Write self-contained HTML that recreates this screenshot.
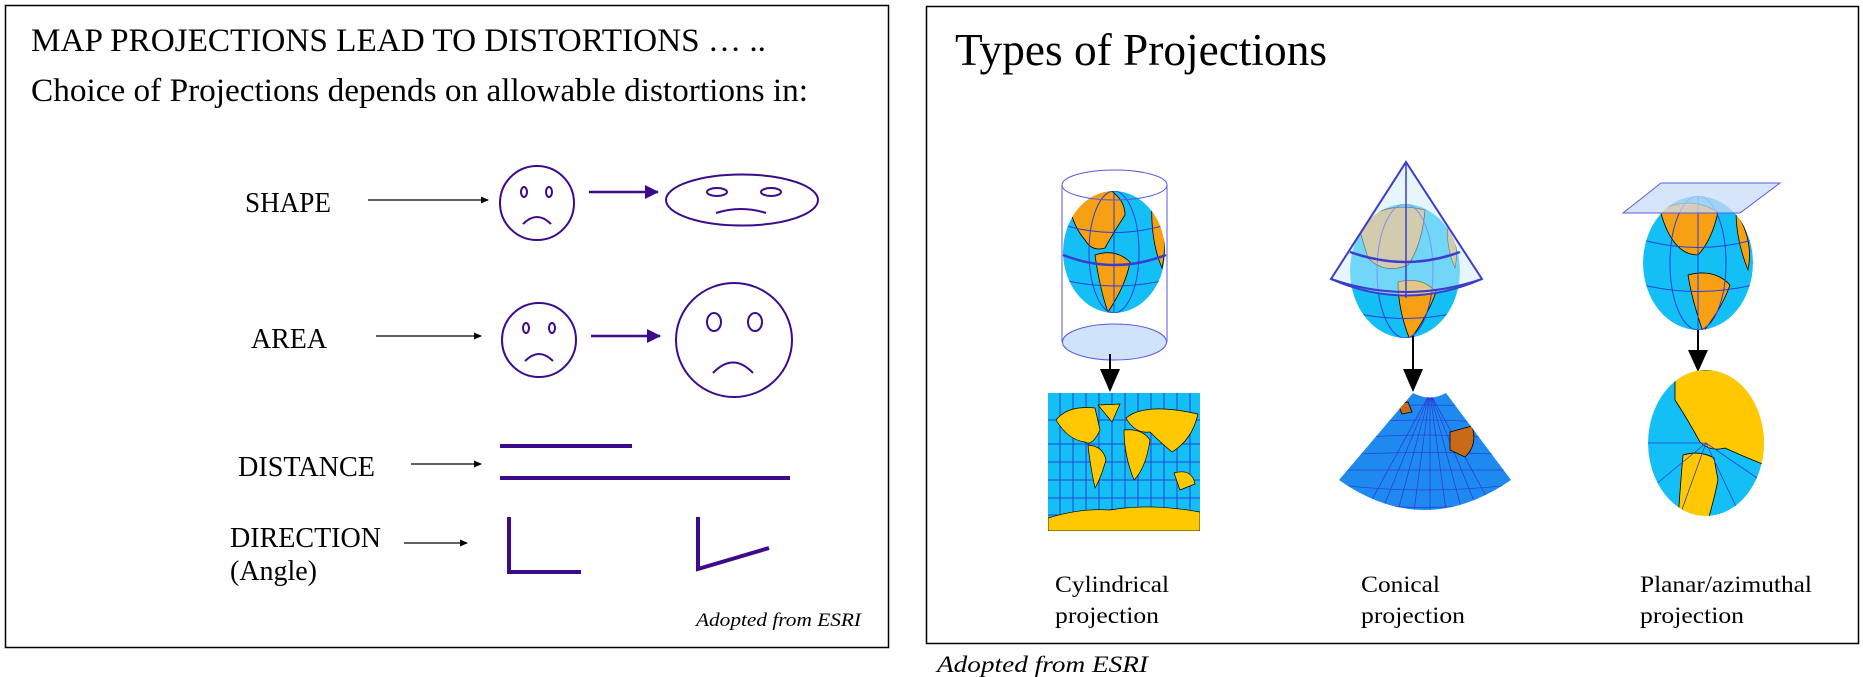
<!DOCTYPE html>
<html><head><meta charset="utf-8"><style>
html,body{margin:0;padding:0;background:#fff;}
svg{display:block;}
text{font-family:"Liberation Serif",serif;fill:#000;}
</style></head><body>
<svg width="1863" height="677" viewBox="0 0 1863 677" xmlns="http://www.w3.org/2000/svg">
<defs>
<marker id="ak" markerWidth="8" markerHeight="8" refX="7" refY="4" orient="auto" markerUnits="userSpaceOnUse"><path d="M0,0.5 L8,4 L0,7.5 z" fill="#000"/></marker>
<marker id="ap" markerWidth="14" markerHeight="14" refX="13" refY="7" orient="auto" markerUnits="userSpaceOnUse"><path d="M0,0 L14,7 L0,14 z" fill="#3d0a8c"/></marker>
<clipPath id="c1"><ellipse cx="1114" cy="252" rx="51" ry="61"/></clipPath>
<clipPath id="c2"><ellipse cx="1405" cy="271" rx="55" ry="67"/></clipPath>
<clipPath id="c3"><ellipse cx="1698" cy="263" rx="55" ry="67"/></clipPath>
<clipPath id="c4"><ellipse cx="1706" cy="443" rx="58" ry="73"/></clipPath>
<clipPath id="c5"><rect x="1048" y="393" width="152" height="138"/></clipPath>
<clipPath id="c6"><path d="M1413,393 Q1430,402 1446,393 L1511,480 Q1424,540 1339,480 Z"/></clipPath>
</defs>

<rect x="5.5" y="5.5" width="883" height="642" fill="none" stroke="#000" stroke-width="1.5"/>
<text x="31" y="51" font-size="33" textLength="735" lengthAdjust="spacingAndGlyphs">MAP PROJECTIONS LEAD TO DISTORTIONS … ..</text>
<text x="31" y="101" font-size="33" textLength="777" lengthAdjust="spacingAndGlyphs">Choice of Projections depends on allowable  distortions in:</text>

<g fill="none" stroke="#3d0a8c" stroke-width="2">
<ellipse cx="537" cy="203" rx="37" ry="37"/>
<ellipse cx="524" cy="192" rx="3" ry="5"/><ellipse cx="549" cy="192" rx="3" ry="5"/>
<path d="M523,224 Q537,210 551,224"/>
<ellipse cx="742" cy="200" rx="76" ry="25.5"/>
<ellipse cx="717" cy="192" rx="10" ry="4"/><ellipse cx="771" cy="192" rx="10" ry="4"/>
<path d="M716,213 Q741,205 766,213"/>
<ellipse cx="539" cy="340" rx="37" ry="37"/>
<ellipse cx="526" cy="328" rx="3" ry="5"/><ellipse cx="552" cy="328" rx="3" ry="5"/>
<path d="M525,361 Q539,347 553,361"/>
<ellipse cx="734" cy="340" rx="58" ry="57"/>
<ellipse cx="714" cy="322" rx="7" ry="9"/><ellipse cx="755" cy="322" rx="7" ry="9"/>
<path d="M713,373 Q733,352 753,373"/>
</g>
<line x1="589" y1="192" x2="658" y2="192" stroke="#3d0a8c" stroke-width="2.5" marker-end="url(#ap)"/>
<line x1="591" y1="336" x2="660" y2="336" stroke="#3d0a8c" stroke-width="2.5" marker-end="url(#ap)"/>
<g stroke="#3d0a8c" stroke-width="4" fill="none">
<line x1="500" y1="446" x2="632" y2="446"/>
<line x1="500" y1="478" x2="790" y2="478"/>
<polyline points="509,517 509,572 581,572"/>
<polyline points="698,517 698,569 769,548"/>
</g>
<g stroke="#000" stroke-width="1.3">
<line x1="368" y1="200" x2="488" y2="200" marker-end="url(#ak)"/>
<line x1="376" y1="336" x2="481" y2="336" marker-end="url(#ak)"/>
<line x1="411" y1="464" x2="481" y2="464" marker-end="url(#ak)"/>
<line x1="404" y1="543" x2="467" y2="543" marker-end="url(#ak)"/>
</g>
<text x="245" y="212" font-size="28" textLength="86" lengthAdjust="spacingAndGlyphs">SHAPE</text>
<text x="251" y="348" font-size="28" textLength="76" lengthAdjust="spacingAndGlyphs">AREA</text>
<text x="238" y="476" font-size="28" textLength="137" lengthAdjust="spacingAndGlyphs">DISTANCE</text>
<text x="230" y="547" font-size="28" textLength="151" lengthAdjust="spacingAndGlyphs">DIRECTION</text>
<text x="230" y="580" font-size="28" textLength="87" lengthAdjust="spacingAndGlyphs">(Angle)</text>
<text x="696" y="626" font-size="19" font-style="italic" textLength="165" lengthAdjust="spacingAndGlyphs">Adopted from ESRI</text>

<rect x="926.5" y="6.5" width="932" height="637" fill="none" stroke="#000" stroke-width="1.5"/>
<text x="955" y="65" font-size="45" textLength="372" lengthAdjust="spacingAndGlyphs">Types of Projections</text>

<ellipse cx="1114.5" cy="342" rx="52" ry="18" fill="#cfe3fb" stroke="#5a5ae0" stroke-width="1"/>
<g clip-path="url(#c1)">
<ellipse cx="1114" cy="252" rx="51" ry="61" fill="#14bff5"/>
<path d="M1068,200 Q1085,185 1110,190 Q1125,200 1125,215 Q1112,235 1105,248 Q1092,252 1085,240 Q1072,225 1068,200Z" fill="#f7a013" stroke="#000" stroke-width="0.8"/>
<path d="M1095,255 Q1115,248 1130,262 Q1126,285 1108,312 Q1100,290 1095,255Z" fill="#f7a013" stroke="#000" stroke-width="0.8"/>
<path d="M1152,200 Q1170,230 1162,268 Q1150,240 1152,200Z" fill="#f7a013" stroke="#000" stroke-width="0.8"/>
<g fill="none" stroke="#2a3fd8" stroke-width="1"><ellipse cx="1114" cy="252" rx="25" ry="61"/><line x1="1114" y1="190" x2="1114" y2="314"/><path d="M1063,225 Q1114,240 1166,225"/><path d="M1063,280 Q1114,292 1166,280"/></g>
</g>
<path d="M1063,255 Q1114,275 1166,255" fill="none" stroke="#3b3ccc" stroke-width="2.5"/>
<ellipse cx="1114.5" cy="185" rx="52.5" ry="15" fill="none" stroke="#5a5ae0" stroke-width="1"/>
<line x1="1062" y1="185" x2="1062" y2="342" stroke="#5a5ae0" stroke-width="1"/>
<line x1="1167" y1="185" x2="1167" y2="342" stroke="#5a5ae0" stroke-width="1"/>
<line x1="1110" y1="354" x2="1110" y2="372" stroke="#000" stroke-width="2"/>
<path d="M1100,369 L1120,369 L1110,392Z" fill="#000"/>
<g clip-path="url(#c5)">
<rect x="1048" y="393" width="152" height="138" fill="#14bff5"/>
<g stroke="#2a3fd8" stroke-width="1">
<path d="M1060,393V531M1073,393V531M1086,393V531M1099,393V531M1112,393V531M1125,393V531M1138,393V531M1151,393V531M1164,393V531M1177,393V531M1190,393V531"/>
<path d="M1048,420H1200M1048,444H1200M1048,462H1200M1048,480H1200M1048,498H1200M1048,515H1200"/>
</g>
<g fill="#ffc800" stroke="#000" stroke-width="0.7">
<path d="M1056,420 Q1068,405 1095,408 L1100,430 Q1092,447 1085,442 Q1068,440 1056,420Z"/>
<path d="M1098,405 L1120,404 L1112,422Z"/>
<path d="M1088,445 Q1103,446 1106,460 Q1100,480 1095,488 Q1090,465 1088,445Z"/>
<path d="M1126,418 Q1145,402 1198,414 Q1192,440 1172,452 Q1160,442 1150,432 Q1135,434 1126,418Z"/>
<path d="M1124,430 Q1142,428 1150,440 Q1146,468 1134,480 Q1124,455 1124,430Z"/>
<path d="M1174,473 Q1192,468 1195,484 L1180,490Z"/>
<path d="M1048,518 Q1080,508 1110,510 Q1150,503 1200,512 L1200,531 L1048,531Z"/>
</g>
</g>

<g clip-path="url(#c2)">
<ellipse cx="1405" cy="271" rx="55" ry="67" fill="#14bff5"/>
<path d="M1358,225 Q1385,200 1425,210 Q1422,245 1408,265 Q1385,275 1368,258Z" fill="#d9a860" stroke="#000" stroke-width="0.8"/>
<path d="M1398,282 Q1422,276 1436,292 Q1428,315 1410,340 Q1398,310 1398,282Z" fill="#f7a013" stroke="#000" stroke-width="0.8"/>
<path d="M1448,220 Q1460,245 1455,268 Q1445,245 1448,220Z" fill="#d9a860" stroke="#000" stroke-width="0.6"/>
<g fill="none" stroke="#2a3fd8" stroke-width="1"><ellipse cx="1405" cy="271" rx="28" ry="67"/><path d="M1350,312 Q1405,325 1460,312"/></g>
</g>
<path d="M1406,162 L1482,279 Q1406,312 1331,279 Z" fill="#cdeefa" fill-opacity="0.5" stroke="#3b3ccc" stroke-width="2"/>
<path d="M1331,279 Q1406,305 1482,279" fill="none" stroke="#3b3ccc" stroke-width="2"/>
<path d="M1350,252 Q1406,272 1460,252" fill="none" stroke="#3b3ccc" stroke-width="2.5"/>
<line x1="1406" y1="162" x2="1406" y2="298" stroke="#3b3ccc" stroke-width="1.5"/>
<line x1="1413" y1="336" x2="1413" y2="372" stroke="#000" stroke-width="2"/>
<path d="M1403,369 L1423,369 L1413,392Z" fill="#000"/>
<g clip-path="url(#c6)">
<rect x="1339" y="390" width="175" height="140" fill="#1e8af0"/>
<g stroke="#2a3fd8" stroke-width="0.8" fill="none">
<path d="M1339,410Q1425,400 1511,410M1339,425Q1425,415 1511,425M1339,440Q1425,430 1511,440M1339,455Q1425,450 1511,455M1339,470Q1425,470 1511,470M1339,485Q1425,495 1511,485M1339,500Q1425,515 1511,500"/>
<path d="M1430,393L1350,540M1430,393L1370,540M1430,393L1390,540M1430,393L1410,540M1430,393L1430,540M1430,393L1450,540M1430,393L1470,540M1430,393L1490,540M1430,393L1510,540"/>
</g>
<path d="M1450,432 L1472,426 Q1478,445 1465,457 L1450,450Z" fill="#c86a1a" stroke="#000" stroke-width="0.8"/>
<path d="M1398,404 L1408,402 L1412,412 L1402,414Z" fill="#c86a1a" stroke="#000" stroke-width="0.8"/>
</g>

<g clip-path="url(#c3)">
<ellipse cx="1698" cy="263" rx="55" ry="67" fill="#14bff5"/>
<path d="M1660,210 Q1690,195 1718,212 Q1712,240 1698,255 Q1672,255 1660,210Z" fill="#f7a013" stroke="#000" stroke-width="0.8"/>
<path d="M1688,275 Q1714,268 1730,285 Q1722,308 1703,332 Q1692,300 1688,275Z" fill="#f7a013" stroke="#000" stroke-width="0.8"/>
<path d="M1736,212 Q1754,240 1748,270 Q1736,240 1736,212Z" fill="#f7a013" stroke="#000" stroke-width="0.8"/>
<g fill="none" stroke="#2a3fd8" stroke-width="1"><ellipse cx="1698" cy="263" rx="28" ry="67"/><line x1="1698" y1="196" x2="1698" y2="330"/><path d="M1643,240Q1698,255 1753,240M1643,285Q1698,298 1753,285"/></g>
</g>
<path d="M1623,213 L1661,183 L1780,183 L1740,213 Z" fill="#c9dcf8" fill-opacity="0.75" stroke="#5a5ae0" stroke-width="1"/>
<line x1="1698" y1="330" x2="1698" y2="353" stroke="#000" stroke-width="2"/>
<path d="M1688,350 L1708,350 L1698,372Z" fill="#000"/>
<g clip-path="url(#c4)">
<ellipse cx="1706" cy="443" rx="58" ry="73" fill="#14bff5"/>
<path d="M1675,370 L1765,370 L1765,465 Q1740,455 1725,448 Q1710,452 1700,442 Q1688,420 1675,400Z" fill="#ffc800" stroke="#000" stroke-width="0.8"/>
<path d="M1683,455 Q1700,450 1714,458 L1718,480 Q1714,500 1708,520 L1678,520 Q1680,490 1683,455Z" fill="#ffc800" stroke="#000" stroke-width="0.8"/>
<g stroke="#2a3fd8" stroke-width="0.8"><path d="M1706,443L1648,443M1706,443L1655,485M1706,443L1680,515M1706,443L1740,515M1706,443L1760,480"/></g>
</g>

<text x="1055" y="592" font-size="23" textLength="114" lengthAdjust="spacingAndGlyphs">Cylindrical</text>
<text x="1055" y="623" font-size="23" textLength="104" lengthAdjust="spacingAndGlyphs">projection</text>
<text x="1361" y="592" font-size="23" textLength="79" lengthAdjust="spacingAndGlyphs">Conical</text>
<text x="1361" y="623" font-size="23" textLength="104" lengthAdjust="spacingAndGlyphs">projection</text>
<text x="1640" y="592" font-size="23" textLength="172" lengthAdjust="spacingAndGlyphs">Planar/azimuthal</text>
<text x="1640" y="623" font-size="23" textLength="104" lengthAdjust="spacingAndGlyphs">projection</text>
<text x="937" y="672" font-size="23" font-style="italic" textLength="211" lengthAdjust="spacingAndGlyphs">Adopted from ESRI</text>
</svg>
</body></html>
